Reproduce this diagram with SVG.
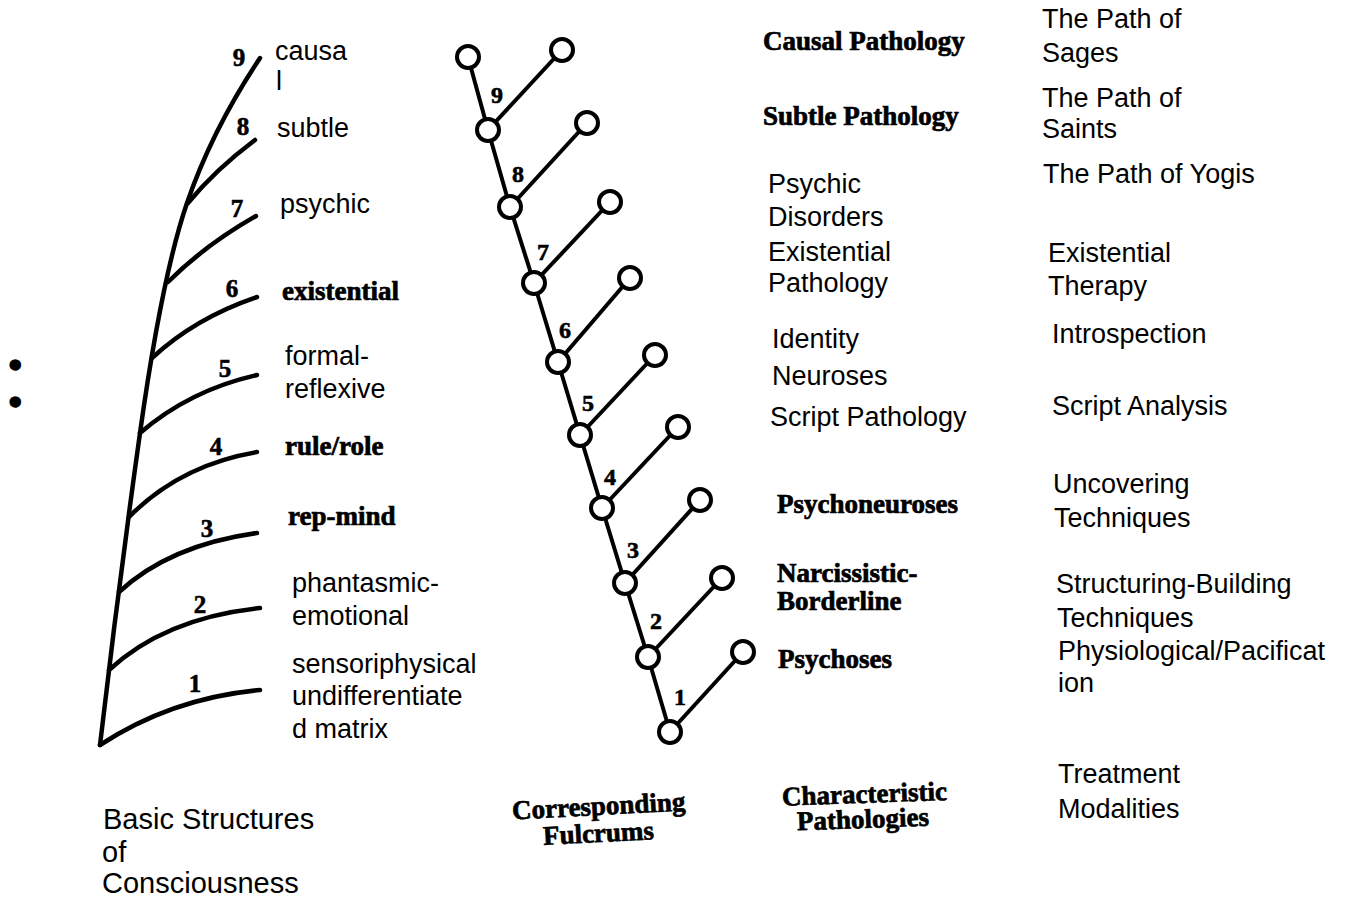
<svg xmlns="http://www.w3.org/2000/svg" width="1365" height="902" viewBox="0 0 1365 902">
<style>
.sans{font-family:"Liberation Sans",Arial,sans-serif;font-size:27px;fill:#000}
.big{font-size:29px}
.bullet{font-size:30px;stroke:#000;stroke-width:3.5;stroke-linejoin:round}
.bold{font-family:"Liberation Serif","Times New Roman",serif;font-weight:bold;font-size:27px;fill:#000;stroke:#000;stroke-width:0.7}
.num{font-family:"Liberation Serif","Times New Roman",serif;font-weight:bold;font-size:25px;fill:#000;stroke:#000;stroke-width:0.6;text-anchor:middle}
.num2{font-family:"Liberation Serif","Times New Roman",serif;font-weight:bold;font-size:24px;fill:#000;stroke:#000;stroke-width:0.6;text-anchor:middle}
.ln{fill:none;stroke:#000;stroke-width:4.5;stroke-linecap:round}
.edge{fill:none;stroke:#000;stroke-width:4}
.nd{fill:#fff;stroke:#000;stroke-width:4}
</style>
<rect width="1365" height="902" fill="#fff"/>
<g id="basic-structures-tree">
<path class="ln" d="M100,745 Q118,590 140,433 T187,203 T260,58"/>
<path class="ln" d="M188,203 Q215,170 255,140"/>
<path class="ln" d="M168,282 Q205,245 256,216"/>
<path class="ln" d="M152,358 Q195,318 257,297"/>
<path class="ln" d="M140,433 Q190,390 257,375"/>
<path class="ln" d="M129,517 Q180,465 257,452"/>
<path class="ln" d="M119,592 Q170,545 257,533"/>
<path class="ln" d="M109,670 Q165,618 260,608"/>
<path class="ln" d="M100,745 Q172,698 260,690"/>
<text class="num" x="239" y="66">9</text>
<text class="num" x="243" y="135">8</text>
<text class="num" x="237" y="217">7</text>
<text class="num" x="232" y="297">6</text>
<text class="num" x="225" y="377">5</text>
<text class="num" x="216" y="455">4</text>
<text class="num" x="207" y="537">3</text>
<text class="num" x="200" y="613">2</text>
<text class="num" x="195" y="692">1</text>
</g>
<g id="basic-labels">
<text class="sans" x="275" y="60">causa</text>
<text class="sans" x="276" y="90">l</text>
<text class="sans" x="277" y="137">subtle</text>
<text class="sans" x="280" y="213">psychic</text>
<text class="bold" x="282" y="300">existential</text>
<text class="sans" x="285" y="365">formal-</text>
<text class="sans" x="285" y="398">reflexive</text>
<text class="bold" x="285" y="455">rule/role</text>
<text class="bold" x="288" y="525">rep-mind</text>
<text class="sans" x="292" y="592">phantasmic-</text>
<text class="sans" x="292" y="625">emotional</text>
<text class="sans" x="292" y="673">sensoriphysical</text>
<text class="sans" x="292" y="705">undifferentiate</text>
<text class="sans" x="292" y="738">d matrix</text>
<text class="sans bullet" x="10" y="375">•</text>
<text class="sans bullet" x="10" y="412">•</text>
<text class="sans big" x="103" y="829"> Basic Structures</text>
<text class="sans big" x="102" y="862">of</text>
<text class="sans big" x="102" y="893">Consciousness</text>
</g>
<g id="connectors">
<polyline class="edge" points="468,57 488,130 510,207 534,283 558,362 580,435 602,508 625,583 648,657 670,732"/>
<line class="edge" x1="488" y1="130" x2="562" y2="50"/>
<line class="edge" x1="510" y1="207" x2="587" y2="123"/>
<line class="edge" x1="534" y1="283" x2="610" y2="202"/>
<line class="edge" x1="558" y1="362" x2="630" y2="278"/>
<line class="edge" x1="580" y1="435" x2="655" y2="355"/>
<line class="edge" x1="602" y1="508" x2="678" y2="427"/>
<line class="edge" x1="625" y1="583" x2="700" y2="500"/>
<line class="edge" x1="648" y1="657" x2="722" y2="578"/>
<line class="edge" x1="670" y1="732" x2="743" y2="652"/>
</g>
<g id="fulcrum-nodes">
<circle class="nd" cx="468" cy="57" r="11"/>
<circle class="nd" cx="562" cy="50" r="11"/>
<circle class="nd" cx="488" cy="130" r="11"/>
<circle class="nd" cx="587" cy="123" r="11"/>
<circle class="nd" cx="510" cy="207" r="11"/>
<circle class="nd" cx="610" cy="202" r="11"/>
<circle class="nd" cx="534" cy="283" r="11"/>
<circle class="nd" cx="630" cy="278" r="11"/>
<circle class="nd" cx="558" cy="362" r="11"/>
<circle class="nd" cx="655" cy="355" r="11"/>
<circle class="nd" cx="580" cy="435" r="11"/>
<circle class="nd" cx="678" cy="427" r="11"/>
<circle class="nd" cx="602" cy="508" r="11"/>
<circle class="nd" cx="700" cy="500" r="11"/>
<circle class="nd" cx="625" cy="583" r="11"/>
<circle class="nd" cx="722" cy="578" r="11"/>
<circle class="nd" cx="648" cy="657" r="11"/>
<circle class="nd" cx="743" cy="652" r="11"/>
<circle class="nd" cx="670" cy="732" r="11"/>
<text class="num2" x="497" y="103">9</text>
<text class="num2" x="518" y="182">8</text>
<text class="num2" x="543" y="260">7</text>
<text class="num2" x="565" y="338">6</text>
<text class="num2" x="588" y="411">5</text>
<text class="num2" x="610" y="485">4</text>
<text class="num2" x="633" y="558">3</text>
<text class="num2" x="656" y="629">2</text>
<text class="num2" x="680" y="705">1</text>
</g>
<g id="pathologies">
<text class="bold" x="763" y="50">Causal Pathology</text>
<text class="bold" x="763" y="125">Subtle Pathology</text>
<text class="sans" x="768" y="193">Psychic</text>
<text class="sans" x="768" y="226">Disorders</text>
<text class="sans" x="768" y="261">Existential</text>
<text class="sans" x="768" y="292">Pathology</text>
<text class="sans" x="772" y="348">Identity</text>
<text class="sans" x="772" y="385">Neuroses</text>
<text class="sans" x="770" y="426">Script Pathology</text>
<text class="bold" x="777" y="513">Psychoneuroses</text>
<text class="bold" x="777" y="582">Narcissistic-</text>
<text class="bold" x="777" y="610">Borderline</text>
<text class="bold" x="778" y="668">Psychoses</text>
</g>
<g id="treatments">
<text class="sans" x="1042" y="28">The Path of</text>
<text class="sans" x="1042" y="62">Sages</text>
<text class="sans" x="1042" y="107">The Path of</text>
<text class="sans" x="1042" y="138">Saints</text>
<text class="sans" x="1043" y="183">The Path of Yogis</text>
<text class="sans" x="1048" y="262">Existential</text>
<text class="sans" x="1048" y="295">Therapy</text>
<text class="sans" x="1052" y="343">Introspection</text>
<text class="sans" x="1052" y="415">Script Analysis</text>
<text class="sans" x="1053" y="493">Uncovering</text>
<text class="sans" x="1054" y="527">Techniques</text>
<text class="sans" x="1056" y="593">Structuring-Building</text>
<text class="sans" x="1057" y="627">Techniques</text>
<text class="sans" x="1058" y="660">Physiological/Pacificat</text>
<text class="sans" x="1058" y="692">ion</text>
<text class="sans" x="1058" y="783">Treatment</text>
<text class="sans" x="1058" y="818">Modalities</text>
</g>
<g id="column-headings">
<text class="bold" x="512" y="815" transform="rotate(-3 598 808)">Corresponding</text>
<text class="bold" x="543" y="842" transform="rotate(-3 600 835)">Fulcrums</text>
<text class="bold" x="782" y="803" transform="rotate(-2 860 796)">Characteristic</text>
<text class="bold" x="797" y="828" transform="rotate(-2 864 821)">Pathologies</text>
</g>
</svg>
